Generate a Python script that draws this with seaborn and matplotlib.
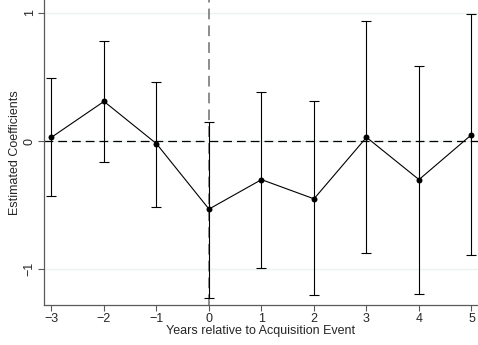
import matplotlib
matplotlib.use("Agg")
import matplotlib.pyplot as plt
import seaborn as sns
import pandas as pd

# Event-study estimates
years = [-3, -2, -1, 0, 1, 2, 3, 4, 5]
coef = [0.03, 0.31, -0.02, -0.53, -0.30, -0.45, 0.03, -0.30, 0.05]
ci_low = [-0.43, -0.16, -0.51, -1.22, -0.99, -1.20, -0.87, -1.19, -0.89]
ci_high = [0.49, 0.78, 0.46, 0.15, 0.38, 0.31, 0.94, 0.59, 0.99]
xticks = [-3, -2, -1, 0, 1, 2, 3, 4, 5]
yticks = [-1, 0, 1]

df = pd.DataFrame({"year": years, "coef": coef, "lo": ci_low, "hi": ci_high})

sns.set_theme(style="white")
plt.rcParams['font.family'] = ['Liberation Sans', 'DejaVu Sans']

fig = plt.figure(figsize=(4.78, 3.45), dpi=100)
ax = fig.add_axes([0.092, 0.116, 0.908, 0.884])

# light gridlines at the y ticks (Stata style)
for yv in yticks:
    ax.axhline(yv, color="#eaf2f3", lw=1.0, zorder=0)

# reference lines
ax.axhline(0, color="black", lw=0.9, ls=(0, (7, 4)), zorder=1)
ax.axvline(0, color="#6e6e6e", lw=1.1, ls=(0, (7, 4)), zorder=1)

# confidence intervals
ax.errorbar(df["year"], df["coef"],
            yerr=[df["coef"] - df["lo"], df["hi"] - df["coef"]],
            fmt="none", ecolor="black", elinewidth=0.8, capsize=3.5,
            capthick=0.8, zorder=2)

# point estimates connected
sns.lineplot(data=df, x="year", y="coef", ax=ax, color="black", lw=0.8,
             marker="o", markersize=4.3, markeredgewidth=0, zorder=3)

ax.set_xlim(-3.143, 5.124)
ax.set_ylim(-1.278, 1.101)
ax.set_xticks(xticks)
ax.set_xticklabels([str(v).replace("-", "\u2212") for v in xticks])
ax.set_yticks(yticks)
ax.set_yticklabels([str(v).replace("-", "\u2212") for v in yticks],
                   rotation=90, va="center")

ax.set_xlabel("Years relative to Acquisition Event", fontsize=9, labelpad=0)
ax.set_ylabel("Estimated Coefficients", fontsize=9, labelpad=2)

ax.tick_params(axis="both", which="both", direction="out", length=4,
               width=0.8, color="#5a5a5a", labelsize=9, pad=2,
               bottom=True, left=True)

for side in ["top", "right"]:
    ax.spines[side].set_visible(False)
for side in ["left", "bottom"]:
    ax.spines[side].set_color("#5a5a5a")
    ax.spines[side].set_linewidth(0.9)

fig.savefig("out.png", dpi=100)
